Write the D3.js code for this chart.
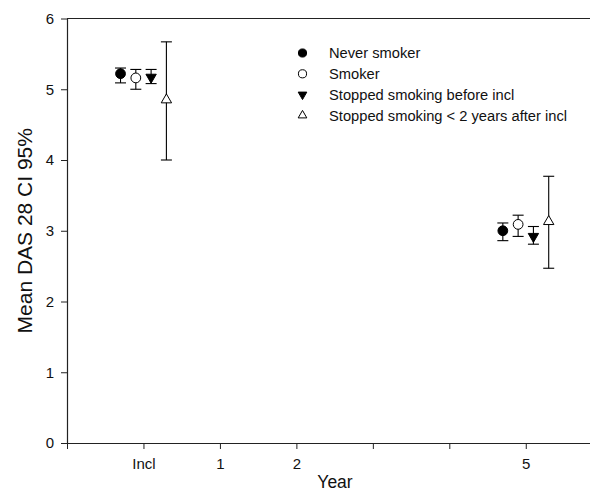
<!DOCTYPE html>
<html>
<head>
<meta charset="utf-8">
<script src="https://cdn.jsdelivr.net/npm/d3@7"></script>
<style>
  body { margin: 0; background: #fff; }
  svg { display: block; font-family: "Liberation Sans", Arial, sans-serif; }
</style>
</head>
<body>
<div class="canvas"></div>
<script>
// data
const groups = ['Never smoker', 'Smoker', 'Stopped smoking before incl', 'Stopped smoking < 2 years after incl']
const timePoints = [0, 5]   // 0 = Incl, 5 = year 5
const meanVals = [[5.22, 3.00], [5.16, 3.09], [5.17, 2.92], [4.85, 3.13]]
const lowerVals = [[5.09, 2.86], [5.00, 2.92], [5.08, 2.81], [4.00, 2.47]]
const upperVals = [[5.30, 3.11], [5.28, 3.22], [5.28, 3.06], [5.67, 3.77]]
const groupOffsets = [-0.3, -0.1, 0.1, 0.3]
const xTickValues = [-1, 0, 1, 2, 3, 4, 5]
const xTickLabels = ['', 'Incl', '1', '2', '', '', '5']
const yTickValues = [0, 1, 2, 3, 4, 5, 6]

const svgWidth = 590
const svgHeight = 491

const svg = d3.select('.canvas')
    .append('svg')
    .attr('width', svgWidth)
    .attr('height', svgHeight)

// plot area: left axis at 67, top at 18.5, bottom at 443, runs off the right edge
const x = d3.scaleLinear().domain([-1, 5.84]).range([67, 590])
const y = d3.scaleLinear().domain([0, 6]).range([443, 18.5])

// axes
const xAxis = d3.axisBottom(x)
    .tickValues(xTickValues)
    .tickSize(6)
    .tickSizeOuter(0)
    .tickFormat((d, i) => xTickLabels[i])

const yAxis = d3.axisLeft(y)
    .tickValues(yTickValues)
    .tickSize(6)
    .tickSizeOuter(0)
    .tickFormat(d3.format('d'))

const xAxisGroup = svg.append('g')
    .attr('transform', `translate(0, ${y(0)})`)
    .call(xAxis)
const yAxisGroup = svg.append('g')
    .attr('transform', `translate(${x(-1)}, 0)`)
    .call(yAxis)

svg.selectAll('.domain').attr('stroke', '#222').attr('stroke-width', 1.2)
svg.selectAll('.tick line').attr('stroke', '#222')
xAxisGroup.selectAll('text')
    .attr('font-size', 15)
    .attr('fill', '#111')
    .attr('y', 12)
    .attr('dy', '0.9em')
yAxisGroup.selectAll('text')
    .attr('font-size', 15)
    .attr('fill', '#111')
    .attr('x', -13)

// top frame line
svg.append('line')
    .attr('x1', x(-1)).attr('x2', 590)
    .attr('y1', y(6)).attr('y2', y(6))
    .attr('stroke', '#222').attr('stroke-width', 1.2)

// axis titles
svg.append('text')
    .text('Year')
    .attr('x', 335).attr('y', 488)
    .attr('text-anchor', 'middle')
    .attr('font-size', 17.5)
    .attr('fill', '#111')

svg.append('text')
    .text('Mean DAS 28 CI 95%')
    .attr('transform', `translate(32, ${y(3)}) rotate(-90)`)
    .attr('text-anchor', 'middle')
    .attr('font-size', 21)
    .attr('fill', '#111')

// marker shapes
const markerPath = (gi, s) => {
    if (gi < 2) return d3.symbol(d3.symbolCircle, s)()
    return d3.symbol(d3.symbolTriangle, s * 0.62)()
}
const markerFill = gi => (gi === 0 || gi === 2) ? '#000' : '#fff'
const markerRotate = gi => gi === 2 ? 180 : 0

// error bars + means
const capHalf = 5.5
const points = []
groups.forEach((g, gi) => {
    timePoints.forEach((t, ti) => {
        points.push({gi, t, mean: meanVals[gi][ti], lo: lowerVals[gi][ti], hi: upperVals[gi][ti]})
    })
})

const bars = svg.append('g').selectAll('g')
    .data(points)
    .enter()
    .append('g')
    .attr('transform', d => `translate(${x(d.t + groupOffsets[d.gi])}, 0)`)

bars.append('line')
    .attr('x1', 0).attr('x2', 0)
    .attr('y1', d => y(d.lo)).attr('y2', d => y(d.hi))
    .attr('stroke', '#000').attr('stroke-width', 1.1)
bars.append('line')
    .attr('x1', -capHalf).attr('x2', capHalf)
    .attr('y1', d => y(d.hi)).attr('y2', d => y(d.hi))
    .attr('stroke', '#000').attr('stroke-width', 1.1)
bars.append('line')
    .attr('x1', -capHalf).attr('x2', capHalf)
    .attr('y1', d => y(d.lo)).attr('y2', d => y(d.lo))
    .attr('stroke', '#000').attr('stroke-width', 1.1)
bars.append('path')
    .attr('d', d => markerPath(d.gi, 75))
    .attr('transform', d => `translate(0, ${y(d.mean)}) rotate(${markerRotate(d.gi)})`)
    .attr('fill', d => markerFill(d.gi))
    .attr('stroke', '#000').attr('stroke-width', 1)

// legend
const legend = svg.append('g').attr('transform', 'translate(302.5, 53)')
const items = legend.selectAll('g')
    .data(groups)
    .enter()
    .append('g')
    .attr('transform', (d, i) => `translate(0, ${i * 20.8})`)

items.append('path')
    .attr('d', (d, i) => markerPath(i, 52))
    .attr('transform', (d, i) => `rotate(${markerRotate(i)})`)
    .attr('fill', (d, i) => markerFill(i))
    .attr('stroke', '#000').attr('stroke-width', 1)

items.append('text')
    .text(d => d)
    .attr('x', 26.5)
    .attr('dy', '0.36em')
    .attr('font-size', 14.7)
    .attr('fill', '#111')
</script>
</body>
</html>
